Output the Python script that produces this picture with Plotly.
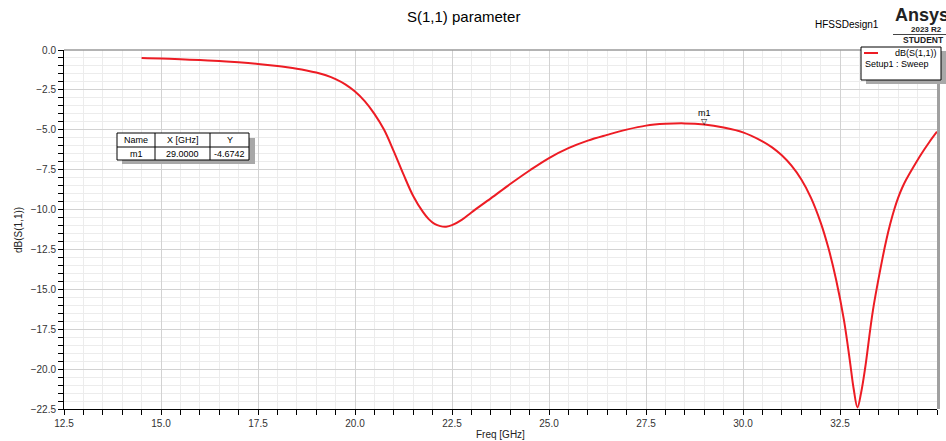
import plotly.graph_objects as go

# ---- data ----
freq_ghz = [14.5, 15.0, 15.5, 16.0, 16.5, 17.0, 17.5, 18.0, 18.25, 18.5, 18.75, 19.0, 19.25, 19.5, 19.75,
            20.0, 20.25, 20.5, 20.75, 21.0, 21.25, 21.5, 21.75, 21.9, 22.05, 22.2, 22.35,
            22.5, 22.75, 23.0, 23.5, 24.0, 24.5, 25.0, 25.5, 26.0, 26.5, 27.0, 27.5, 28.0,
            28.5, 29.0, 29.5, 30.0, 30.5, 30.75, 31.0, 31.25, 31.5, 31.75, 32.0, 32.2, 32.4,
            32.6, 32.75, 32.85, 32.95, 33.05, 33.15, 33.35, 33.6, 33.7, 33.8, 33.9,
            34.0, 34.1, 34.2, 34.4, 34.6, 34.8, 35.0]
s11_db = [-0.5, -0.53, -0.58, -0.63, -0.69, -0.77, -0.87, -1.0, -1.08, -1.17, -1.28, -1.41, -1.58, -1.82, -2.15,
          -2.6, -3.2, -4.0, -5.0, -6.35, -7.8, -9.15, -10.15, -10.6, -10.9, -11.04, -11.07,
          -10.98, -10.65, -10.18, -9.3, -8.4, -7.55, -6.77, -6.15, -5.68, -5.32, -4.99, -4.74, -4.63,
          -4.6, -4.67, -4.86, -5.16, -5.72, -6.1, -6.6, -7.25, -8.1, -9.25, -10.8, -12.4, -14.4,
          -16.9, -19.4, -21.2, -22.4, -21.4, -19.9, -16.3, -13.0, -11.85, -10.85, -9.98,
          -9.25, -8.65, -8.15, -7.3, -6.5, -5.78, -5.12]

marker_name = "m1"
marker_x = 29.0
marker_y = -4.6742

series_name = "dB(S(1,1))"
setup_name = "Setup1 : Sweep"

# ---- geometry helpers (pixel -> paper) ----
W, H = 946, 441
L, R, T, B = 64, 9, 50, 32
PW, PH = W - L - R, H - T - B


def px(x):
    return (x - L) / PW


def py(y):
    return (H - B - y) / PH


FONT = "Liberation Sans, Arial, sans-serif"
NARROW = "Liberation Sans Narrow, Liberation Sans, Arial, sans-serif"
RED = "rgb(237,28,36)"

fig = go.Figure()
fig.add_trace(go.Scatter(x=freq_ghz, y=s11_db, mode="lines", name=series_name,
                         line=dict(color=RED, width=2, shape="spline", smoothing=1.0),
                         showlegend=False, hoverinfo="x+y"))

axis_common = dict(
    tickformat=".1f", showgrid=True, gridcolor="#d2d2d2", gridwidth=1,
    showline=True, linecolor="black", linewidth=1, ticks="outside", ticklen=5,
    tickcolor="black", zeroline=False, tickfont=dict(family=FONT, size=10, color="#333"),
    automargin=False,
)
fig.update_xaxes(range=[12.5, 35], dtick=2.5, tick0=12.5,
                 minor=dict(dtick=0.5, showgrid=True, gridcolor="#ececec",
                            ticks="outside", ticklen=5, tickcolor="black"),
                 **axis_common)
fig.update_yaxes(range=[-22.5, 0], dtick=2.5, tick0=0,
                 minor=dict(dtick=0.5, showgrid=True, gridcolor="#ececec",
                            ticks="outside", ticklen=5, tickcolor="black"),
                 **axis_common)

shapes = []
ann = []

# top and right plot borders (gray, HFSS style)
shapes.append(dict(type="line", xref="paper", yref="paper", x0=0, x1=1, y0=1, y1=1,
                   line=dict(color="#9a9a9a", width=1.5)))
shapes.append(dict(type="line", xref="paper", yref="paper", x0=px(938.5), x1=px(938.5), y0=0, y1=1,
                   line=dict(color="#a0a0a0", width=3)))

# legend box
shapes.append(dict(type="rect", xref="paper", yref="paper", x0=px(866), x1=px(947),
                   y0=py(84), y1=py(51), fillcolor="#a8a8a8", line=dict(width=0)))
shapes.append(dict(type="rect", xref="paper", yref="paper", x0=px(861), x1=px(941),
                   y0=py(80), y1=py(47), fillcolor="white", line=dict(color="black", width=1)))
shapes.append(dict(type="line", xref="paper", yref="paper", x0=px(864), x1=px(878),
                   y0=py(53), y1=py(53), line=dict(color=RED, width=2)))
ann.append(dict(xref="paper", yref="paper", x=px(893), y=py(53), text=series_name,
                showarrow=False, xanchor="left", yanchor="middle",
                font=dict(family=FONT, size=9, color="black")))
ann.append(dict(xref="paper", yref="paper", x=px(863), y=py(64), text=setup_name,
                showarrow=False, xanchor="left", yanchor="middle",
                font=dict(family=FONT, size=9, color="black")))

# marker table
tl, tr, tt, tb = 117, 249, 133, 160
shapes.append(dict(type="rect", xref="paper", yref="paper", x0=px(tl + 5), x1=px(tr + 6),
                   y0=py(tb + 4), y1=py(tt + 5), fillcolor="#a8a8a8", line=dict(width=0)))
shapes.append(dict(type="rect", xref="paper", yref="paper", x0=px(tl), x1=px(tr),
                   y0=py(tb), y1=py(tt), fillcolor="white", line=dict(color="black", width=1)))
shapes.append(dict(type="line", xref="paper", yref="paper", x0=px(tl), x1=px(tr),
                   y0=py(147), y1=py(147), line=dict(color="black", width=1)))
for cx in (155, 210):
    shapes.append(dict(type="line", xref="paper", yref="paper", x0=px(cx), x1=px(cx),
                       y0=py(tb), y1=py(tt), line=dict(color="black", width=1)))
table_cells = [("Name", 136, 140), ("X [GHz]", 182.5, 140), ("Y", 229.5, 140),
               (marker_name, 136, 153.5), (f"{marker_x:.4f}", 182.5, 153.5),
               (f"{marker_y:.4f}", 229.5, 153.5)]
for txt, cx, cy in table_cells:
    ann.append(dict(xref="paper", yref="paper", x=px(cx), y=py(cy), text=txt,
                    showarrow=False, xanchor="center", yanchor="middle",
                    font=dict(family=FONT, size=9, color="black")))

# marker m1 on the curve
ann.append(dict(xref="x", yref="y", x=marker_x, y=marker_y, text="▽", showarrow=False,
                yanchor="bottom", yshift=-3, font=dict(family="DejaVu Sans", size=8, color="black")))
ann.append(dict(xref="x", yref="y", x=marker_x, y=marker_y, text=marker_name, showarrow=False,
                yanchor="bottom", yshift=5, font=dict(family=FONT, size=9, color="black")))

# title, axis titles
ann.append(dict(xref="paper", yref="paper", x=px(463), y=py(16), text="S(1,1) parameter",
                showarrow=False, xanchor="center", yanchor="middle",
                font=dict(family=FONT, size=15, color="black")))
ann.append(dict(xref="paper", yref="paper", x=px(500), y=py(434), text="Freq [GHz]",
                showarrow=False, xanchor="center", yanchor="middle",
                font=dict(family=FONT, size=10, color="#222")))
ann.append(dict(xref="paper", yref="paper", x=px(18), y=py(230), text="dB(S(1,1))",
                showarrow=False, xanchor="center", yanchor="middle", textangle=-90,
                font=dict(family=FONT, size=10, color="#222")))

# HFSS design name and Ansys logo text
ann.append(dict(xref="paper", yref="paper", x=px(813), y=py(25), text="HFSSDesign1",
                showarrow=False, xanchor="left", yanchor="middle",
                font=dict(family=FONT, size=10, color="black")))
ann.append(dict(xref="paper", yref="paper", x=px(893), y=py(15), text="<b>Ansys</b>",
                showarrow=False, xanchor="left", yanchor="middle",
                font=dict(family=NARROW, size=18, color="#222")))
ann.append(dict(xref="paper", yref="paper", x=px(909), y=py(29.5), text="<b>2023 R2</b>",
                showarrow=False, xanchor="left", yanchor="middle",
                font=dict(family=NARROW, size=8, color="#222")))
shapes.append(dict(type="line", xref="paper", yref="paper", x0=px(893), x1=px(947),
                   y0=py(34.5), y1=py(34.5), line=dict(color="#444", width=1)))
ann.append(dict(xref="paper", yref="paper", x=px(901), y=py(40.5), text="<b>STUDENT</b>",
                showarrow=False, xanchor="left", yanchor="middle",
                font=dict(family=NARROW, size=8.5, color="#222")))

fig.update_layout(
    width=W, height=H, autosize=False,
    margin=dict(l=L, r=R, t=T, b=B, pad=0),
    paper_bgcolor="white", plot_bgcolor="white",
    showlegend=False, shapes=shapes, annotations=ann,
    font=dict(family=FONT, size=10, color="#333"),
)

fig.write_html("out.html")
